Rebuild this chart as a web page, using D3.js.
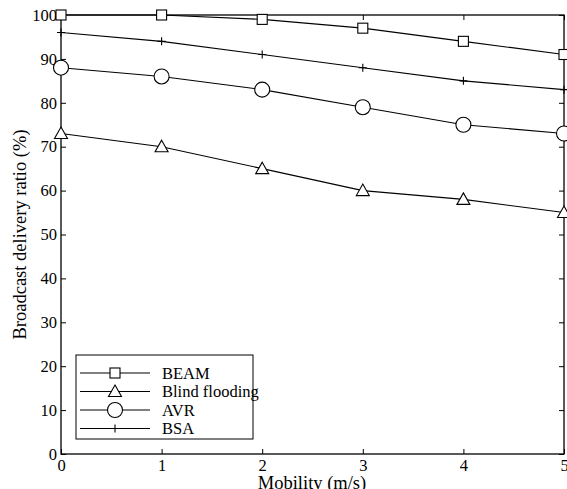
<!DOCTYPE html>
<html>
<head>
<meta charset="utf-8">
<script src="https://cdn.jsdelivr.net/npm/d3@7"></script>
<style>
  html, body { margin: 0; padding: 0; background: #fff; }
  svg text { font-family: "Liberation Serif", "Times New Roman", "DejaVu Serif", serif; fill: #000; }
</style>
</head>
<body>
<svg id="chart" width="567" height="489"></svg>
<script>
// Mobility (m/s)
const mobility = [0, 1, 2, 3, 4, 5];
// Broadcast delivery ratio (%) per protocol
const beam = [100, 100, 99, 97, 94, 91];
const blindFlooding = [73, 70, 65, 60, 58, 55];
const avr = [88, 86, 83, 79, 75, 73];
const bsa = [96, 94, 91, 88, 85, 83];
const seriesNames = ["BEAM", "Blind flooding", "AVR", "BSA"];
const xTicks = [0, 1, 2, 3, 4, 5];
const yTicks = [0, 10, 20, 30, 40, 50, 60, 70, 80, 90, 100];

const series = [
  { name: seriesNames[0], values: beam, marker: "square" },
  { name: seriesNames[1], values: blindFlooding, marker: "triangle" },
  { name: seriesNames[2], values: avr, marker: "circle" },
  { name: seriesNames[3], values: bsa, marker: "plus" }
];

const serif = "Liberation Serif, Times New Roman, DejaVu Serif, serif";
const svg = d3.select("#chart");
const plotLeft = 61, plotRight = 564, plotTop = 15, plotBottom = 454;

const x = d3.scaleLinear().domain([0, 5]).range([plotLeft, plotRight]);
const y = d3.scaleLinear().domain([0, 100]).range([plotBottom, plotTop]);
const fmt = d3.format("d");

// Axes with inward ticks on all four sides
const tickLen = 5;
svg.append("g").attr("transform", `translate(0,${plotBottom})`)
  .call(d3.axisBottom(x).tickValues(xTicks).tickFormat(fmt).tickSizeInner(-tickLen).tickSizeOuter(0).tickPadding(5))
  .call(g => g.select(".domain").remove())
  .call(g => g.selectAll("text").attr("font-size", 16.5).attr("font-family", serif));
svg.append("g").attr("transform", `translate(0,${plotTop})`)
  .call(d3.axisTop(x).tickValues(xTicks).tickSizeInner(-tickLen).tickSizeOuter(0).tickFormat(""))
  .call(g => g.select(".domain").remove());
svg.append("g").attr("transform", `translate(${plotLeft},0)`)
  .call(d3.axisLeft(y).tickValues(yTicks).tickFormat(fmt).tickSizeInner(-tickLen).tickSizeOuter(0).tickPadding(4))
  .call(g => g.select(".domain").remove())
  .call(g => g.selectAll("text").attr("font-size", 16.5).attr("font-family", serif));
svg.append("g").attr("transform", `translate(${plotRight},0)`)
  .call(d3.axisRight(y).tickValues(yTicks).tickSizeInner(-tickLen).tickSizeOuter(0).tickFormat(""))
  .call(g => g.select(".domain").remove());
svg.selectAll(".tick line").attr("stroke", "#000").attr("stroke-width", 1);

svg.append("rect")
  .attr("x", plotLeft).attr("y", plotTop)
  .attr("width", plotRight - plotLeft).attr("height", plotBottom - plotTop)
  .attr("fill", "none").attr("stroke", "#000").attr("stroke-width", 1.3);

// Axis titles
svg.append("text")
  .attr("x", 312).attr("y", 489)
  .attr("text-anchor", "middle").attr("font-size", 18.5).attr("font-family", serif)
  .text("Mobility (m/s)");
svg.append("text")
  .attr("transform", `translate(26,${(plotTop + plotBottom) / 2}) rotate(-90)`)
  .attr("text-anchor", "middle").attr("font-size", 18.5).attr("font-family", serif)
  .text("Broadcast delivery ratio (%)");

function drawMarker(g, type, cx, cy) {
  const s = g.append("g").attr("transform", `translate(${cx},${cy})`)
    .attr("fill", "none").attr("stroke", "#000").attr("stroke-width", 1.1);
  if (type === "square") {
    s.append("rect").attr("x", -5).attr("y", -5).attr("width", 10).attr("height", 10).attr("fill", "#fff");
  } else if (type === "triangle") {
    s.append("path").attr("d", "M0,-6.5L6.5,5L-6.5,5Z").attr("fill", "#fff");
  } else if (type === "circle") {
    s.append("circle").attr("r", 7.5).attr("fill", "#fff");
  } else if (type === "plus") {
    s.append("path").attr("d", "M-4,0H4M0,-4V4");
  }
}

const line = d3.line().x((d, i) => x(mobility[i])).y(d => y(d));
const plot = svg.append("g");
series.forEach(s => {
  plot.append("path").datum(s.values)
    .attr("d", line).attr("fill", "none").attr("stroke", "#000").attr("stroke-width", 1.1);
});
series.forEach(s => {
  s.values.forEach((v, i) => drawMarker(plot, s.marker, x(mobility[i]), y(v)));
});

// Legend
const legend = svg.append("g");
legend.append("rect")
  .attr("x", 76).attr("y", 355).attr("width", 177).attr("height", 84)
  .attr("fill", "#fff").attr("stroke", "#000").attr("stroke-width", 1);
series.forEach((s, i) => {
  const ly = 373 + i * 18.5;
  legend.append("line").attr("x1", 80).attr("x2", 150).attr("y1", ly).attr("y2", ly)
    .attr("stroke", "#000").attr("stroke-width", 1.1);
  drawMarker(legend, s.marker, 115, ly);
  legend.append("text").attr("x", 162).attr("y", ly + 5.5)
    .attr("font-size", 16.5).attr("font-family", serif).text(s.name);
});
</script>
</body>
</html>
